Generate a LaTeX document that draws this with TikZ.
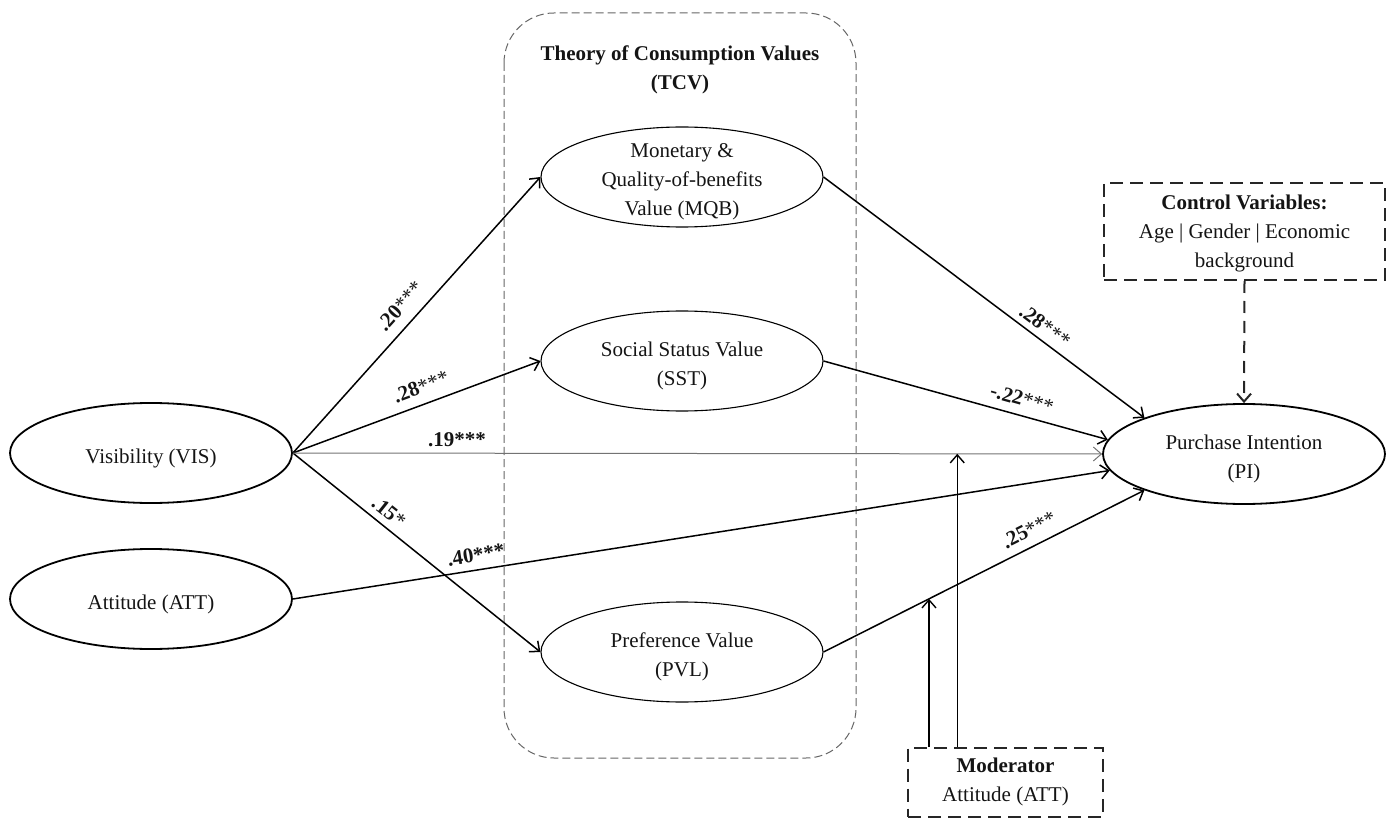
\documentclass[tikz,border=0pt]{standalone}
\usepackage{fontspec}
\setmainfont{Liberation Serif}
\usetikzlibrary{arrows.meta,shapes.geometric}
\begin{document}
\begin{tikzpicture}[x=1pt,y=-1pt,
  every node/.style={font=\fontsize{21}{29}\selectfont, text=black!92},
  latent/.style={ellipse, draw=black, line width=1.8pt, minimum width=282pt, minimum height=100pt, inner sep=0pt},
  tcvvar/.style={latent, line width=1.1pt},
  inside/.style={label={[align=center, yshift=-5pt, font=\fontsize{21}{29}\selectfont, text=black!92]center:{#1}}},
  arr/.style={line width=1.5pt, -{Straight Barb[length=8pt,width=14pt]}},
  grayarr/.style={line width=1pt, draw=black!55, -{Straight Barb[length=8pt,width=14pt]}},
  lbl/.style={inner sep=0pt, font=\fontsize{21}{29}\selectfont\bfseries, text=black!92},
  dbox/.style={draw=black!85, line width=2pt, dash pattern=on 13pt off 7pt, align=center, inner sep=0pt},
  dashedarr/.style={line width=2pt, draw=black!85, dash pattern=on 12pt off 8pt, -{Straight Barb[length=8pt,width=14pt]}},
  modarr/.style={line width=1.4pt, -{Straight Barb[length=8pt,width=14pt]}}
]
\useasboundingbox (0,0) rectangle (1393,818);

% TCV frame
\draw[draw=black!60, line width=1pt, dash pattern=on 8pt off 4pt, rounded corners=50pt] (504,13) rectangle (856,758);
\node[font=\fontsize{21}{29}\selectfont\bfseries, align=center] (tcv) at (680,70) {Theory of Consumption Values\\(TCV)};

% latent variables
\node[latent, inside={Visibility (VIS)}] (VIS) at (151,453) {};
\node[latent, inside={Attitude (ATT)}] (ATT) at (151,599) {};
\node[tcvvar, inside={Monetary \&\\Quality-of-benefits\\Value (MQB)}] (MQB) at (682,177) {};
\node[tcvvar, inside={Social Status Value\\(SST)}] (SST) at (682,361) {};
\node[tcvvar, inside={Preference Value\\(PVL)}] (PVL) at (682,652) {};
\node[latent, inside={Purchase Intention\\(PI)}] (PI) at (1244,454) {};

% boxes
\node[dbox, minimum width=281pt, minimum height=97pt, text depth=0pt] (CTRL) at (1244.5,231.5) {\textbf{Control Variables:}\\Age | Gender | Economic\\background};
\node[dbox, minimum width=195pt, minimum height=69pt] (MOD) at (1005.5,782) {\textbf{Moderator}\\Attitude (ATT)};

% paths from VIS
\draw[arr] (VIS.east) -- (MQB.west);
\draw[arr] (VIS.east) -- (SST.west);
\draw[arr] (VIS.east) -- (PVL.west);
\draw[grayarr] (VIS.east) -- coordinate[pos=0.821] (m2) (PI.west);

% ATT -> PI
\draw[arr] (ATT.east) -- (PI.187);

% TCV -> PI
\draw[arr] (MQB.east) -- (PI.160);
\draw[arr] (SST.east) -- (PI.174);
\draw[arr] (PVL.east) -- coordinate[pos=0.3286] (m1) (PI.200);

% path coefficients
\node[lbl, rotate=47.9] (l1) at (400,306) {.20\textmd{***}};
\node[lbl, rotate=20.5] (l2) at (421,387) {.28\textmd{***}};
\node[lbl] (l4) at (457,440) {.19***};
\node[lbl, rotate=-38.6] (l3) at (389,512) {.15\textmd{*}};
\node[lbl, rotate=9] (l5) at (476,555) {.40***};
\node[lbl, rotate=-36.9] (l6) at (1045,326) {.28\textmd{***}};
\node[lbl, rotate=-15.6] (l7) at (1022,399) {-.22\textmd{***}};
\node[lbl, rotate=26.7] (l8) at (1029,530) {.25\textmd{***}};

% control
\draw[dashedarr] (CTRL.south) -- (PI.north);

% moderator
\draw[modarr] (m1 |- MOD.north) -- (m1);
\draw[modarr] (m2 |- MOD.north) -- (m2);
\end{tikzpicture}
\end{document}
